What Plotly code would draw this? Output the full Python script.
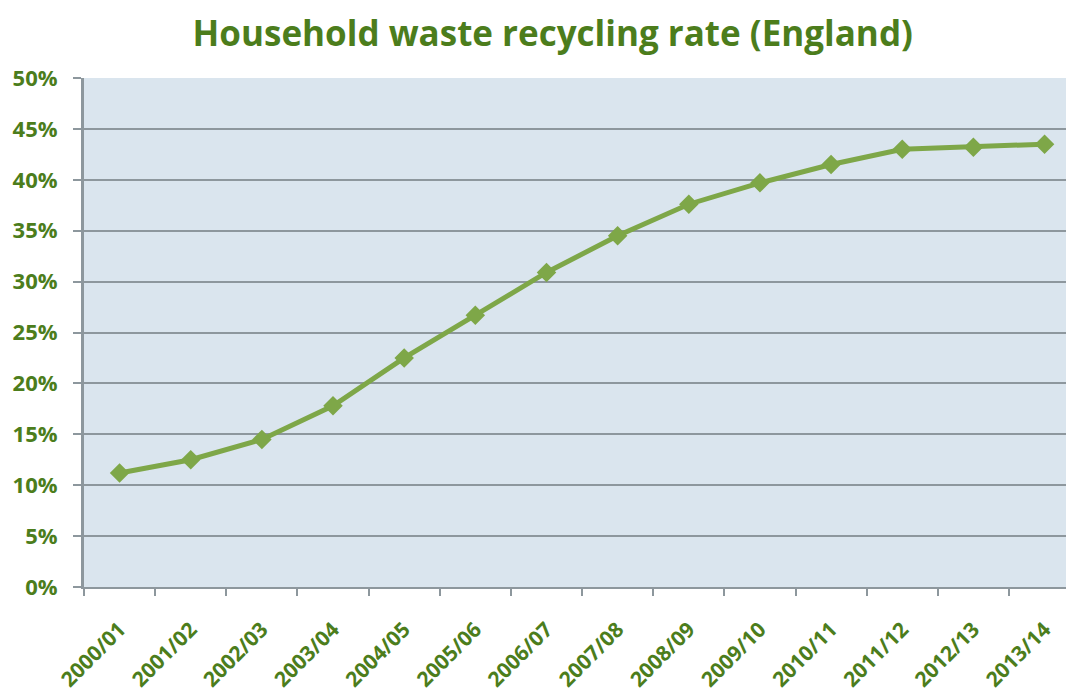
import plotly.graph_objects as go

years = ["2000/01", "2001/02", "2002/03", "2003/04", "2004/05", "2005/06", "2006/07",
         "2007/08", "2008/09", "2009/10", "2010/11", "2011/12", "2012/13", "2013/14"]
rates = [11.2, 12.5, 14.5, 17.8, 22.5, 26.7, 30.9, 34.5, 37.6, 39.7, 41.5, 43.0, 43.2, 43.5]
y_ticks = [0, 5, 10, 15, 20, 25, 30, 35, 40, 45, 50]
y_tick_labels = [f"{v}%" for v in y_ticks]

green_text = "#4c7d1c"
line_green = "#7ea748"
grid = "#8d979d"

fig = go.Figure()
fig.add_trace(go.Scatter(
    x=years, y=rates, mode="lines+markers",
    line=dict(color=line_green, width=5),
    marker=dict(symbol="diamond", size=15, color=line_green),
    hoverinfo="skip", showlegend=False,
))

fig.update_layout(
    width=1066, height=688,
    margin=dict(l=76, r=0, t=70, b=109),
    paper_bgcolor="white", plot_bgcolor="#dae5ee",
    title=dict(text="Household waste recycling rate (England)",
               x=0.511, xref="container", xanchor="center", y=0.963, yref="container", yanchor="middle",
               font=dict(family="Open Sans", size=35, color=green_text, weight="bold")),
    xaxis=dict(
        type="category", range=[-0.5, 13.414],
        tickangle=-45, tickson="boundaries", ticks="outside", ticklen=7, tickwidth=2, tickcolor=grid,
        showline=True, linecolor=grid, linewidth=2, showgrid=False, zeroline=False,
        ticklabelstandoff=20,
        tickfont=dict(family="Open Sans", size=21, color=green_text, weight="bold"),
    ),
    yaxis=dict(
        range=[0, 50], tickmode="array", tickvals=y_ticks, ticktext=y_tick_labels,
        ticks="outside", ticklen=8, tickwidth=2, tickcolor=grid,
        showline=True, linecolor=grid, linewidth=3, showgrid=True, gridcolor=grid, gridwidth=2,
        zeroline=False, ticklabelstandoff=11,
        tickfont=dict(family="Open Sans", size=22, color=green_text, weight="bold"),
    ),
)

fig.write_html("out.html")
